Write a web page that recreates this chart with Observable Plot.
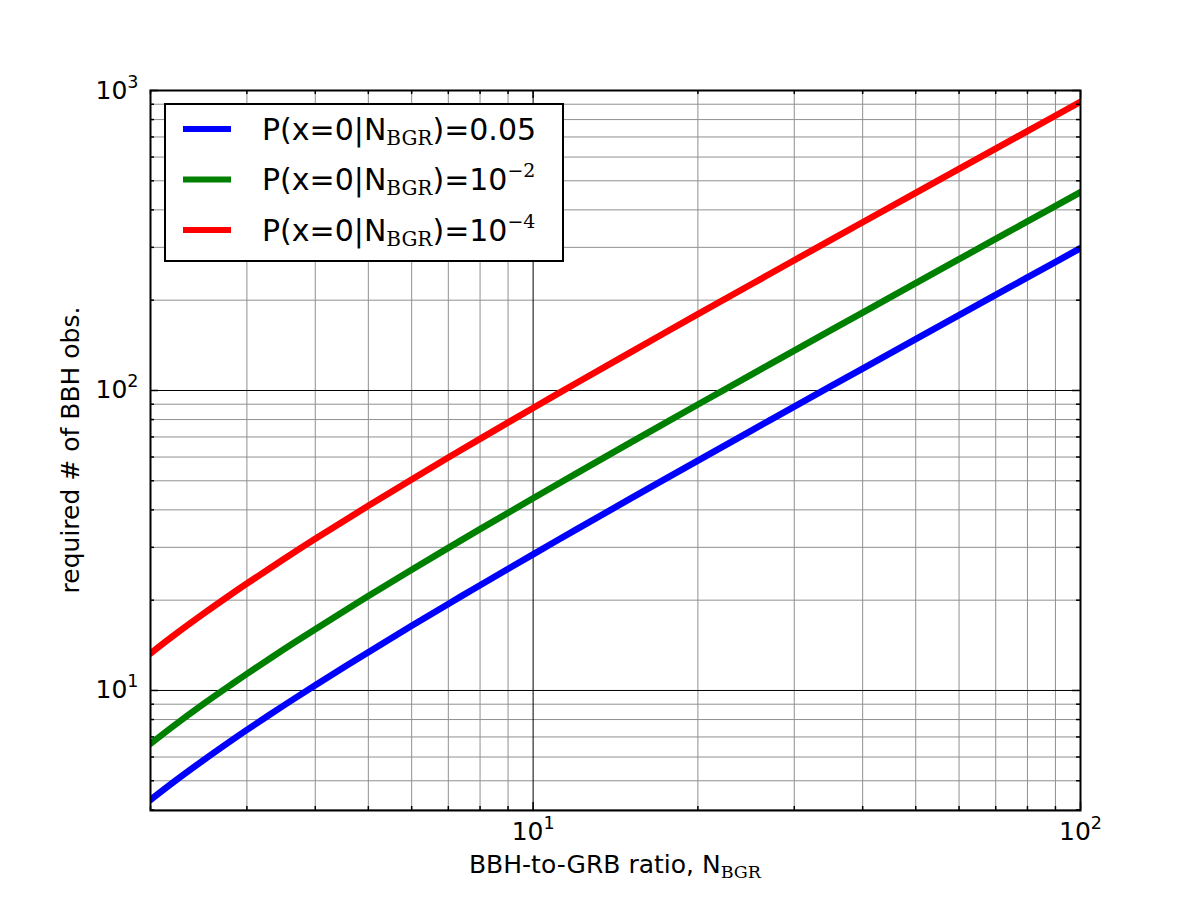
<!DOCTYPE html>
<html>
<head>
<meta charset="utf-8">
<script src="https://cdn.jsdelivr.net/npm/d3@7"></script>
<script src="https://cdn.jsdelivr.net/npm/@observablehq/plot@0.6"></script>
<style>
  html, body { margin: 0; padding: 0; background: white; }
  #chart { position: relative; width: 1200px; height: 900px; }
</style>
</head>
<body>
<div id="chart"></div>
<script>
// ---- data ----
const nBGR = [2, 2.2, 2.5, 2.8, 3, 3.5, 4, 5, 6, 7, 8, 10, 12, 15, 20, 25, 30, 40, 50, 60, 70, 80, 100];
const blueVals  = [4.32, 4.94, 5.86, 6.78, 7.39, 8.90, 10.41, 13.42, 16.43, 19.43, 22.43, 28.43, 34.43, 43.42, 58.40, 73.39, 88.36, 118.3, 148.3, 178.2, 208.2, 238.2, 298.1];
const greenVals = [6.64, 7.60, 9.02, 10.42, 11.36, 13.69, 16.01, 20.64, 25.26, 29.87, 34.49, 43.71, 52.93, 66.75, 89.78, 112.8, 135.8, 181.9, 227.9, 274.0, 320.0, 366.1, 458.2];
const redVals   = [13.29, 15.20, 18.03, 20.85, 22.72, 27.37, 32.02, 41.28, 50.52, 59.75, 68.97, 87.42, 105.9, 133.5, 179.6, 225.6, 271.7, 363.8, 455.9, 548.0, 640.1, 732.2, 916.4];
const seriesNames = ["0.05", "10^-2", "10^-4"];
const seriesColors = ["#0000ff", "#008000", "#ff0000"];
const xMajor = [10, 100];
const xMinor = [2, 3, 4, 5, 6, 7, 8, 9, 20, 30, 40, 50, 60, 70, 80, 90];
const yMajor = [10, 100, 1000];
const yMinor = [4, 5, 6, 7, 8, 9, 20, 30, 40, 50, 60, 70, 80, 90, 200, 300, 400, 500, 600, 700, 800, 900];
const xDomain = [2, 100];
const yDomain = [3.98, 1000];
const xLabelMain = "BBH-to-GRB ratio, N";
const subText = "BGR";
const yLabelText = "required # of BBH obs.";
const legendPrefix = "P(x=0|N";

// ---- build table ----
const allVals = [blueVals, greenVals, redVals];
const rows = [];
seriesNames.forEach((s, i) => nBGR.forEach((x, j) => rows.push({series: s, x, y: allVals[i][j]})));

const W = 1200, H = 900, mL = 150, mR = 120, mT = 90, mB = 90;
const fh = H - mT - mB, fw = W - mL - mR;
const majLen = 8, minLen = 4;

const sup = d => "10^" + Math.round(Math.log10(d));

const chart = Plot.plot({
  width: W, height: H,
  marginLeft: mL, marginRight: mR, marginTop: mT, marginBottom: mB,
  style: {fontFamily: "DejaVu Sans", fontSize: "25px", background: "white", color: "black"},
  x: {type: "log", domain: xDomain},
  y: {type: "log", domain: yDomain},
  color: {domain: seriesNames, range: seriesColors},
  marks: [
    Plot.gridX(xMinor, {stroke: "#909090", strokeOpacity: 1, strokeWidth: 1}),
    Plot.gridY(yMinor, {stroke: "#909090", strokeOpacity: 1, strokeWidth: 1}),
    Plot.gridX(xMajor, {stroke: "black", strokeOpacity: 1, strokeWidth: 1}),
    Plot.gridY(yMajor, {stroke: "black", strokeOpacity: 1, strokeWidth: 1}),
    Plot.line(rows, {x: "x", y: "y", stroke: "series", z: "series", strokeWidth: 6.5, curve: "catmull-rom", clip: true}),
    // inward ticks on all four sides
    Plot.ruleX(xMajor, {insetTop: fh - majLen, stroke: "black", strokeWidth: 1.5}),
    Plot.ruleX(xMajor, {insetBottom: fh - majLen, stroke: "black", strokeWidth: 1.5}),
    Plot.ruleX(xMinor, {insetTop: fh - minLen, stroke: "black", strokeWidth: 1.5}),
    Plot.ruleX(xMinor, {insetBottom: fh - minLen, stroke: "black", strokeWidth: 1.5}),
    Plot.ruleY(yMajor, {insetRight: fw - majLen, stroke: "black", strokeWidth: 1.5}),
    Plot.ruleY(yMajor, {insetLeft: fw - majLen, stroke: "black", strokeWidth: 1.5}),
    Plot.ruleY(yMinor, {insetRight: fw - minLen, stroke: "black", strokeWidth: 1.5}),
    Plot.ruleY(yMinor, {insetLeft: fw - minLen, stroke: "black", strokeWidth: 1.5}),
    Plot.frame({stroke: "black", strokeWidth: 2}),
    Plot.axisX(xMajor, {tickSize: 0, tickPadding: 12, tickFormat: sup, label: null}),
    Plot.axisY(yMajor, {tickSize: 0, tickPadding: 12, tickFormat: sup, label: null})
  ]
});
document.getElementById("chart").appendChild(chart);

const svg = d3.select(chart);

// superscripts on tick labels
svg.selectAll("g[aria-label='x-axis tick label'] text, g[aria-label='y-axis tick label'] text").each(function() {
  const t = d3.select(this);
  const s = t.text();
  const [base, exp] = s.split("^");
  t.text(base);
  t.append("tspan").attr("font-size", "17.5px").attr("dy", "-11").text(exp);
});

// axis titles
const xl = svg.append("text")
  .attr("x", mL + fw / 2).attr("y", 873)
  .attr("text-anchor", "middle")
  .attr("font-family", "DejaVu Sans").attr("font-size", "25px").attr("fill", "black");
xl.append("tspan").text(xLabelMain);
xl.append("tspan").attr("font-family", "DejaVu Serif").attr("font-size", "17.5px").attr("dy", "5").text(subText);

svg.append("text")
  .attr("transform", `translate(79,${mT + fh / 2}) rotate(-90)`)
  .attr("text-anchor", "middle")
  .attr("font-family", "DejaVu Sans").attr("font-size", "25px").attr("fill", "black")
  .text(yLabelText);

// legend
const lg = svg.append("g").attr("text-anchor", "start");
lg.append("rect").attr("x", 165).attr("y", 104).attr("width", 398).attr("height", 157)
  .attr("fill", "white").attr("stroke", "black").attr("stroke-width", 2);
seriesNames.forEach((s, i) => {
  const cy = 129 + i * 50.5;
  lg.append("line").attr("x1", 183).attr("x2", 231).attr("y1", cy).attr("y2", cy)
    .attr("stroke", seriesColors[i]).attr("stroke-width", 6);
  const t = lg.append("text").attr("x", 262).attr("y", cy + 10.5).attr("text-anchor", "start")
    .attr("font-family", "DejaVu Sans").attr("font-size", "30px").attr("fill", "black");
  t.append("tspan").text(legendPrefix);
  t.append("tspan").attr("font-family", "DejaVu Serif").attr("font-size", "20px").attr("dy", "5").text(subText);
  const parts = s.split("^");
  t.append("tspan").attr("dy", "-5").text(")=" + parts[0]);
  if (parts[1]) {
    t.append("tspan").attr("font-family", "DejaVu Serif").attr("font-size", "19px").attr("dy", "-13")
      .text(parts[1].replace("-", "\u2212"));
  }
});
</script>
</body>
</html>
